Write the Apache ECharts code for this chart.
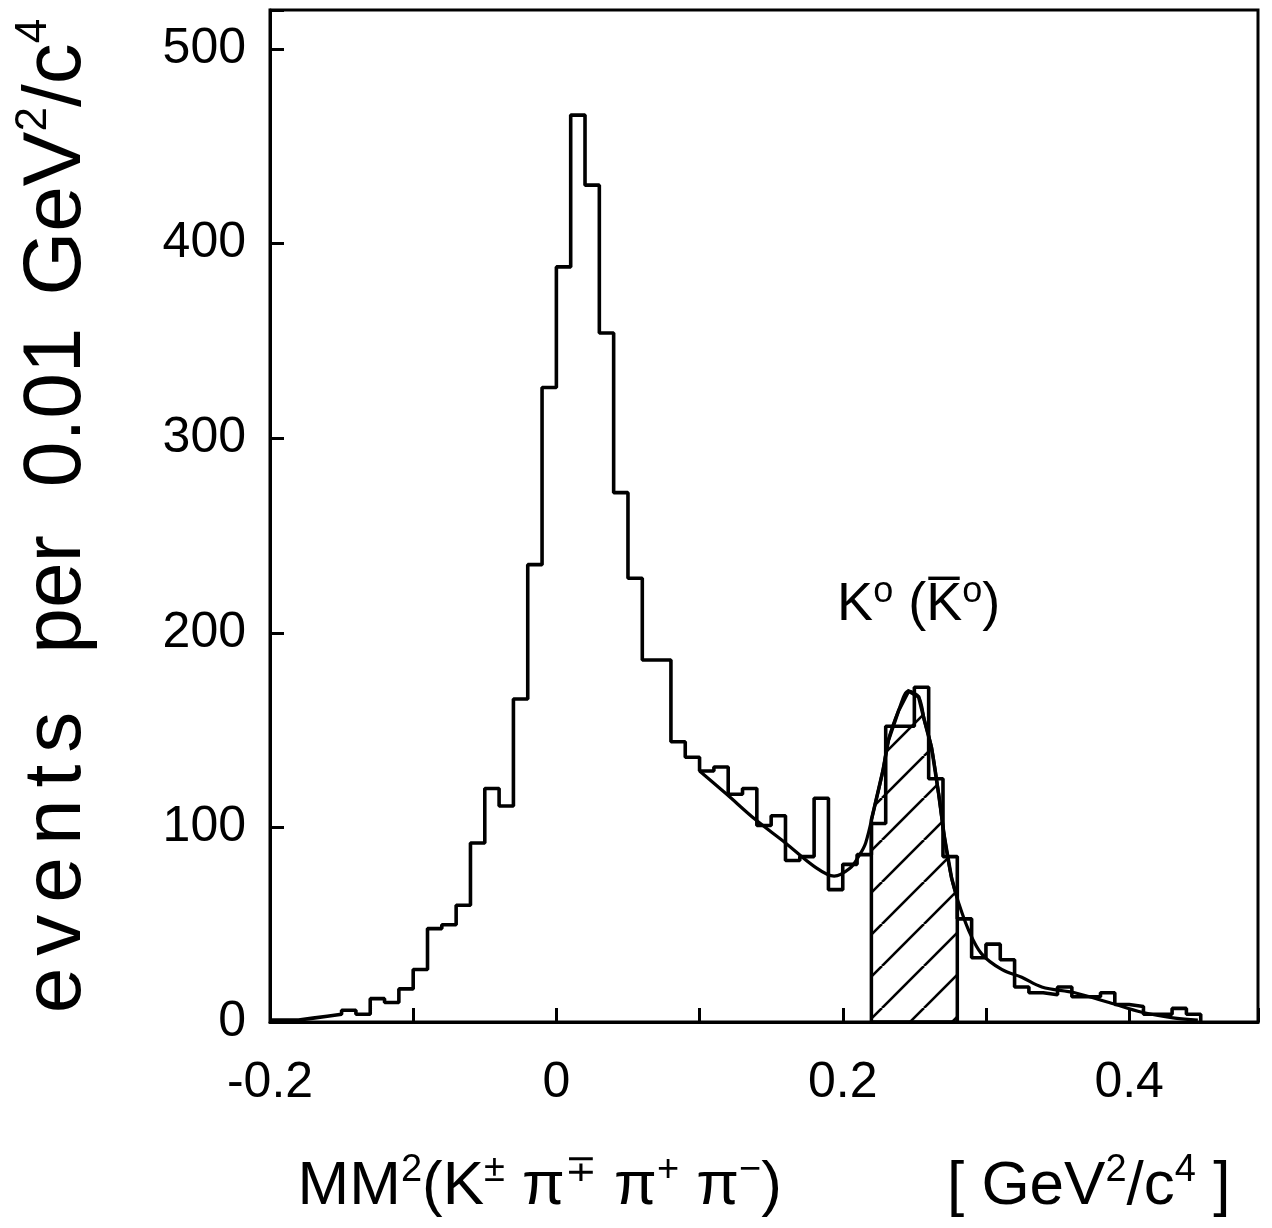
<!DOCTYPE html>
<html>
<head>
<meta charset="utf-8">
<script src="https://cdn.jsdelivr.net/npm/echarts@6/dist/echarts.min.js"></script>
<style>
html,body{margin:0;padding:0;background:#fff;}
#c{width:1272px;height:1228px;}
</style>
</head>
<body>
<div id="c"></div>
<script>
// ---- data ----
const binStart = -0.20;
const binWidth = 0.01;
const counts = [
  1, 1, 2, 3, 4, 6, 4, 12, 10, 17,
  27, 48, 50, 60, 92, 120, 111, 166, 235, 326,
  388, 466, 430, 354, 272, 228, 186, 186, 144, 136,
  129, 131, 117, 120, 101, 106, 83, 85, 115, 68,
  81, 86, 102, 152, 152, 172, 125, 85, 53, 33,
  40, 32, 18, 15, 14, 18, 13, 13, 15, 9,
  8, 4, 4, 7, 4
];
const fitX = [0.100, 0.119, 0.139, 0.160, 0.180, 0.194, 0.205, 0.211, 0.216, 0.222,
              0.228, 0.232, 0.239, 0.246, 0.253, 0.257, 0.262, 0.267, 0.271, 0.276,
              0.281, 0.288, 0.297, 0.311, 0.325, 0.339, 0.362, 0.386, 0.409, 0.432, 0.448];
const fitY = [129, 117, 104, 92, 80, 75, 79, 85, 92, 110,
              129, 145, 160, 170, 167, 155, 141, 117, 95, 74,
              61, 47, 35, 27, 23, 18, 15, 10, 5, 2, 1];
const hatchRange = [0.22, 0.28];
const xTickLabels = { '-0.2': '-0.2', '0': '0', '0.2': '0.2', '0.4': '0.4' };
const yTicks = [0, 100, 200, 300, 400, 500];
const peakLabelPos = [0.253, 214];

// ---- build series data ----
const histData = counts.map((v, i) => [+(binStart + i * binWidth).toFixed(3), v]);
histData.push([+(binStart + counts.length * binWidth).toFixed(3), 0]);
const fitData = fitX.map((x, i) => [x, fitY[i]]);

function fitAt(x) {
  for (let i = 0; i < fitX.length - 1; i++) {
    if (x >= fitX[i] && x <= fitX[i + 1]) {
      const t = (x - fitX[i]) / (fitX[i + 1] - fitX[i]);
      return fitY[i] + t * (fitY[i + 1] - fitY[i]);
    }
  }
  return 0;
}

// hatch pattern
const tile = 42;
const pc = document.createElement('canvas');
pc.width = tile; pc.height = tile;
const g = pc.getContext('2d');
g.strokeStyle = '#000';
g.lineWidth = 2.6;
for (const o of [-tile, 0, tile]) {
  g.beginPath();
  g.moveTo(o, tile);
  g.lineTo(o + tile, 0);
  g.stroke();
}

const chart = echarts.init(document.getElementById('c'), null, { renderer: 'canvas' });

const fontFam = 'Liberation Sans';
const spaced = 'events'.split('').map(ch => '{t|' + ch + '}').join('{ls| }');

chart.setOption({
  animation: false,
  backgroundColor: '#fff',
  grid: {
    left: 270, right: 14, top: 10, bottom: 206,
    containLabel: false,
    outerBoundsMode: 'none',
    show: true, borderColor: '#000', borderWidth: 3, backgroundColor: 'transparent'
  },
  xAxis: {
    type: 'value',
    min: -0.2, max: 0.49, interval: 0.1,
    axisLine: { show: true, onZero: false, lineStyle: { color: '#000', width: 3 } },
    axisTick: { show: true, inside: true, length: 14, lineStyle: { color: '#000', width: 3 } },
    splitLine: { show: false },
    axisLabel: {
      color: '#000', fontSize: 50, fontFamily: fontFam, margin: 36,
      formatter: function (v) {
        const k = String(+v.toFixed(2));
        return xTickLabels[k] !== undefined ? xTickLabels[k] : '';
      }
    },
    name: '{t|MM}{s|2}{t|(K}{s|±}{t| π}{s|∓}{t| π}{s|+}{t| π}{s|−}{t|)}{gap| }{t|[ GeV}{s|2}{t|/c}{s|4}{t| ]}',
    nameLocation: 'middle',
    nameGap: 130,
    nameTextStyle: {
      color: '#000',
      rich: {
        t: { fontSize: 62, fontFamily: fontFam, lineHeight: 70, color: '#000' },
        s: { fontSize: 38, fontFamily: fontFam, lineHeight: 34, verticalAlign: 'top', color: '#000' },
        gap: { fontSize: 62, width: 165, lineHeight: 70 }
      }
    }
  },
  yAxis: {
    type: 'value',
    min: 0, max: 520, interval: 100,
    axisLine: { show: true, onZero: false, lineStyle: { color: '#000', width: 3 } },
    axisTick: { show: true, inside: true, length: 14, lineStyle: { color: '#000', width: 3 } },
    splitLine: { show: false },
    axisLabel: {
      color: '#000', fontSize: 50, fontFamily: fontFam, margin: 24,
      formatter: function (v) { return yTicks.indexOf(v) >= 0 ? String(v) : ''; }
    },
    name: spaced + '{g1| }{t|per}{g2| }{t|0.01}{g3| }{t|GeV}{s|2}{t|/c}{s|4}',
    nameLocation: 'middle',
    nameGap: 168,
    nameRotate: 90,
    nameTextStyle: {
      color: '#000',
      rich: {
        t: { fontSize: 82, fontFamily: fontFam, lineHeight: 90, color: '#000' },
        s: { fontSize: 44, fontFamily: fontFam, lineHeight: 40, verticalAlign: 'top', color: '#000' },
        ls: { fontSize: 82, width: 12, lineHeight: 90 },
        g1: { fontSize: 82, width: 58, lineHeight: 90 },
        g2: { fontSize: 82, width: 48, lineHeight: 90 },
        g3: { fontSize: 82, width: 32, lineHeight: 90 }
      }
    }
  },
  series: [
    {
      type: 'custom',
      z: 1,
      silent: true,
      data: [hatchRange],
      renderItem: function (params, api) {
        const a = hatchRange[0], b = hatchRange[1];
        const pts = [];
        pts.push(api.coord([a, 0]));
        pts.push(api.coord([a, fitAt(a)]));
        for (let i = 0; i < fitX.length; i++) {
          if (fitX[i] > a && fitX[i] < b) pts.push(api.coord([fitX[i], fitY[i]]));
        }
        pts.push(api.coord([b, fitAt(b)]));
        pts.push(api.coord([b, 0]));
        return {
          type: 'polygon',
          shape: { points: pts },
          style: { fill: { image: pc, repeat: 'repeat' }, stroke: '#000', lineWidth: 3.5 }
        };
      }
    },
    {
      type: 'line',
      z: 3,
      step: 'end',
      symbol: 'none',
      data: histData,
      lineStyle: { color: '#000', width: 3.6 },
      silent: true
    },
    {
      type: 'line',
      z: 4,
      smooth: 0.35,
      symbol: 'none',
      data: fitData,
      lineStyle: { color: '#000', width: 3.2 },
      silent: true
    },
    {
      type: 'custom',
      z: 5,
      silent: true,
      data: [peakLabelPos],
      renderItem: function (params, api) {
        const p = api.coord([api.value(0), api.value(1)]);
        return {
          type: 'text',
          x: p[0], y: p[1],
          style: {
            text: '{t|K}{s|o}{t| (K\u0305}{s|o}{t|)}',
            align: 'center', verticalAlign: 'middle',
            fill: '#000',
            rich: {
              t: { fontSize: 54, fontFamily: fontFam, lineHeight: 62, fill: '#000' },
              s: { fontSize: 36, fontFamily: fontFam, lineHeight: 34, verticalAlign: 'top', fill: '#000' }
            }
          }
        };
      }
    }
  ]
});
</script>
</body>
</html>
